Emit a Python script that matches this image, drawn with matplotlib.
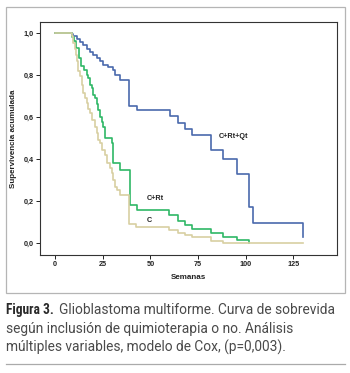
import matplotlib
matplotlib.use("Agg")
import matplotlib.pyplot as plt
from matplotlib.patches import Rectangle
from matplotlib.lines import Line2D

# ---- data ----
t_qt = [0, 8.7, 9.6, 11.4, 13.1, 14.8, 16.6, 18.3, 20.1, 22, 23.6, 25.3, 27.9, 30.6,
        31.4, 34.0, 38.6, 42.8, 60.3, 64.6, 68.1, 71.6, 81.6, 87.9, 95.6, 101.8, 103.9, 129.8]
s_qt = [1.0, 0.995, 0.985, 0.973, 0.957, 0.941, 0.925, 0.91, 0.894, 0.88, 0.865, 0.849, 0.84, 0.824,
        0.80, 0.776, 0.652, 0.633, 0.605, 0.573, 0.541, 0.514, 0.443, 0.40, 0.329, 0.173, 0.094, 0.03]

t_rt = [0, 8.7, 9.1, 10, 11.2, 12.5, 13.5, 15.2, 16.6, 17.5, 18.3, 19.2, 20, 21, 22, 22.7,
        23.6, 24.5, 25.3, 26.2, 29.7, 30.6, 34.1, 39.2, 42.8, 59.9, 64.6, 68.1, 71.6, 81.6,
        87.9, 95.6, 101.8]
s_rt = [1.0, 0.99, 0.98, 0.96, 0.93, 0.88, 0.843, 0.825, 0.80, 0.786, 0.754, 0.738, 0.706, 0.69,
        0.66, 0.635, 0.60, 0.578, 0.55, 0.498, 0.475, 0.38, 0.348, 0.181, 0.157, 0.133, 0.106,
        0.086, 0.067, 0.046, 0.030, 0.014, 0.0]

t_c = [0, 8.7, 9.6, 10.4, 11, 11.7, 12.2, 13.1, 14, 14.8, 15.7, 16.6, 17.5, 18.3, 19.5, 21,
       21.8, 22.7, 23.6, 24.5, 26.2, 27, 28.8, 29.7, 30.6, 31.4, 32.3, 34.1, 39.0, 42.4, 59.9,
       64.6, 68.1, 71.6, 81.6, 87.9, 129.8]
s_c = [1.0, 0.984, 0.952, 0.925, 0.897, 0.865, 0.817, 0.794, 0.754, 0.714, 0.69, 0.667, 0.64,
       0.619, 0.586, 0.554, 0.524, 0.49, 0.476, 0.443, 0.419, 0.381, 0.357, 0.333, 0.30, 0.267,
       0.252, 0.229, 0.09, 0.075, 0.062, 0.048, 0.038, 0.027, 0.011, 0.0, 0.0]

xticks = [0, 25, 50, 75, 100, 125]
yticks = [0.0, 0.2, 0.4, 0.6, 0.8, 1.0]
ytick_labels = ["0,0", "0,2", "0,4", "0,6", "0,8", "1,0"]
curve_labels = ["C+Rt+Qt", "C+Rt", "C"]
label_pos = [(93.8, 0.505), (52.4, 0.214), (49.3, 0.106)]
xlabel = "Semanas"
ylabel = "Supervivencia acumulada"
cap_bold = "Figura 3."
cap_lines = ["Glioblastoma multiforme. Curva de sobrevida",
             "según inclusión de quimioterapia o no. Análisis",
             "múltiples variables, modelo de Cox, (p=0,003)."]

W, H, DPI = 350, 373, 100
fig = plt.figure(figsize=(W / DPI, H / DPI), dpi=DPI)
fig.patch.set_facecolor("white")

def px(x0, y0, w, h):
    return [x0 / W, 1 - (y0 + h) / H, w / W, h / H]

# outer frame
fig.patches.append(Rectangle((6 / W, 1 - 293 / H), 339 / W, 286 / H, transform=fig.transFigure,
                             fill=False, edgecolor="#b5b5b5", linewidth=0.9))
# bottom rule
fig.lines.append(Line2D([6 / W, 345 / W], [1 - 363.5 / H] * 2, transform=fig.transFigure,
                        color="#aaaaaa", linewidth=0.9))

ax = fig.add_axes(px(40, 22, 297, 233))
ax.set_xlim(-7.86, 147.8)
ax.set_ylim(-0.057, 1.052)

ax.step(t_qt, s_qt, where="post", color="#4a69ad", linewidth=1.2)
ax.step(t_rt, s_rt, where="post", color="#2fb866", linewidth=1.2)
ax.step(t_c, s_c, where="post", color="#d8cfa2", linewidth=1.2)

fb = dict(family=["Liberation Sans", "DejaVu Sans"], weight="bold")
for lab, (x, y) in zip(curve_labels, label_pos):
    ax.text(x, y, lab, fontsize=5.2, ha="center", va="center", color="#222222", **fb)

ax.set_xticks(xticks)
ax.set_xticklabels([str(v) for v in xticks], fontsize=5.2, **fb)
ax.set_yticks(yticks)
ax.set_yticklabels(ytick_labels, fontsize=5.2, **fb)
ax.tick_params(direction="out", length=3, width=0.7, colors="#222222", pad=1.5)
for sp in ax.spines.values():
    sp.set_linewidth(0.8)
    sp.set_color("#333333")
ax.set_xlabel(xlabel, fontsize=5.8, labelpad=4, color="#222222", **fb)
ax.set_ylabel(ylabel, fontsize=5.8, labelpad=5, color="#222222", **fb)

# caption
fig.canvas.draw()
r = fig.canvas.get_renderer()
base_y = [314.3, 333.0, 351.7]
tb = fig.text(6 / W, 1 - base_y[0] / H, cap_bold, fontsize=12, color="#2a2a2a",
              family=["Roboto Condensed", "DejaVu Sans"], stretch="condensed", weight="bold",
              va="baseline")
fig.canvas.draw()
wb = tb.get_window_extent(r).width
tb.set_fontsize(min(11.5, 12 * 48 / wb))
fig.canvas.draw()
bb = tb.get_window_extent(r)

capfont = ["Roboto", "DejaVu Sans"]
texts = []
for i, line in enumerate(cap_lines):
    t = fig.text(6 / W, 1 - base_y[i] / H, line, fontsize=10, color="#4a4a4a", family=capfont,
                 weight="normal", va="baseline")
    texts.append(t)
fig.canvas.draw()
targets = [285, 280, 279]
scales = [tg / t.get_window_extent(r).width for tg, t in zip(targets, texts)]
fs = 10 * sum(scales) / len(scales)
for t in texts:
    t.set_fontsize(fs)
texts[0].set_x((bb.x1 + 5) / W)

fig.savefig("out.png", dpi=DPI)
